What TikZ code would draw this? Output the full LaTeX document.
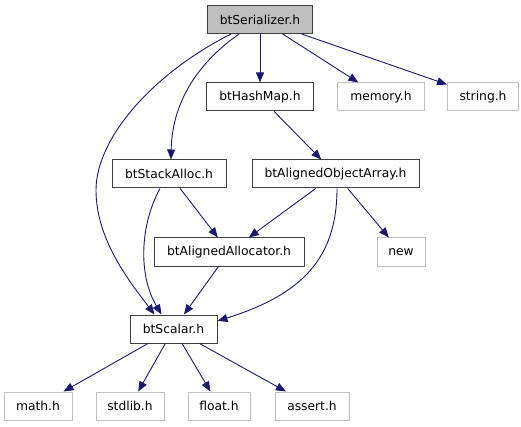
\documentclass[tikz,border=0pt]{standalone}
\usepackage{fontspec}
\setmainfont{DejaVu Sans}
\usetikzlibrary{arrows.meta, positioning}

\definecolor{edgeblue}{RGB}{25,25,112}
\definecolor{extgray}{RGB}{191,191,191}
\definecolor{docgray}{RGB}{64,64,64}

\begin{document}
\begin{tikzpicture}[
        x=1pt, y=-1pt,
        node distance=23pt,
        % Testo di default: DejaVu come nei grafi doxygen
        every node/.style={font=\fontsize{12.3}{14}\selectfont, inner sep=0pt, minimum height=28pt},
        % Header documentati: bordo scuro
        hdr/.style={draw=docgray, line width=1pt, fill=white},
        % Header esterni (di sistema): bordo grigio chiaro
        sys/.style={draw=extgray, line width=1pt, fill=white},
        % File corrente
        current/.style={hdr, fill=extgray},
        % Frecce di inclusione
        incl/.style={-{Triangle[length=10pt, width=8pt]}, draw=edgeblue, line width=0.9pt}
    ]

    \useasboundingbox (0,0) rectangle (521,427);

    % --- Livello 0: file corrente ---
    \node[current, minimum width=105pt] (serializer) at (260,19.5) {btSerializer.h};

    % --- Livello 1 ---
    \node[hdr, minimum width=107pt] (hashmap) at (260,97) {btHashMap.h};
    \node[sys, minimum width=87pt, right=of hashmap] (memory) {memory.h};
    \node[sys, minimum width=71pt, right=22pt of memory] (string) {string.h};

    % --- Livello 2 ---
    \node[hdr, minimum width=114pt] (stackalloc) at (169,174) {btStackAlloc.h};
    \node[hdr, minimum width=167pt] (objarray) at (335.5,174) {btAlignedObjectArray.h};

    % --- Livello 3 ---
    \node[hdr, minimum width=150pt] (allocator) at (229,252) {btAlignedAllocator.h};
    \node[sys, minimum width=48pt] (new) at (401,252) {new};

    % --- Livello 4 ---
    \node[hdr, minimum width=87pt] (scalar) at (173.5,329) {btScalar.h};

    % --- Livello 5: header di sistema ---
    \node[sys, minimum width=68pt] (math) at (38,406) {math.h};
    \node[sys, minimum width=68pt, right=of math] (stdlib) {stdlib.h};
    \node[sys, minimum width=62pt, right=of stdlib] (float) {float.h};
    \node[sys, minimum width=74pt, right=24pt of float] (assert) {assert.h};

    % --- Inclusioni dirette ---
    \draw[incl] (serializer) -- (hashmap);
    \draw[incl] (serializer) -- (memory);
    \draw[incl] (serializer) -- (string);
    \draw[incl] ([xshift=-21pt]serializer.south) .. controls (195,65) and (172,105) .. ([xshift=2pt]stackalloc.north);
    \draw[incl] ([xshift=-29pt]serializer.south) .. controls (150,75) and (96,140) .. (96,190)
        .. controls (96,240) and (130,282) .. ([xshift=-19pt]scalar.north);

    \draw[incl] (hashmap) -- (objarray);

    \draw[incl] (stackalloc) -- (allocator);
    \draw[incl] ([xshift=-9pt]stackalloc.south) .. controls (140,225) and (138,275) .. ([xshift=-12pt]scalar.north);

    \draw[incl] (objarray) -- (allocator);
    \draw[incl] (objarray) -- (new);
    \draw[incl] ([xshift=1.5pt]objarray.south) .. controls (337,260) and (300,295) .. ([yshift=8pt]scalar.east);

    \draw[incl] (allocator) -- (scalar);

    % Header di sistema inclusi da btScalar.h
    \draw[incl] (scalar) -- (math);
    \draw[incl] (scalar) -- (stdlib);
    \draw[incl] (scalar) -- (float);
    \draw[incl] (scalar) -- (assert);

\end{tikzpicture}
\end{document}
